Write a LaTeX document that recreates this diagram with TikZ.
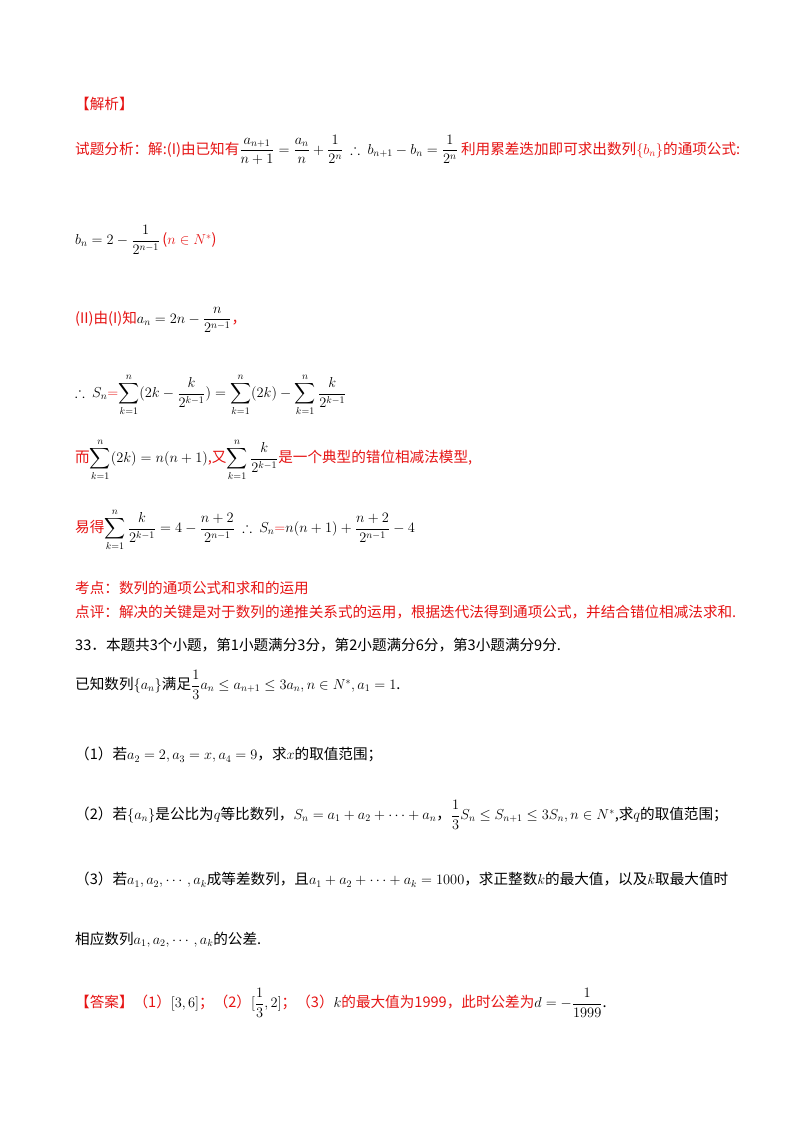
\documentclass[tikz,border=0pt]{standalone}
\usepackage{amsmath,amssymb}
\usepackage{fontspec}
\setmainfont{Liberation Serif}
\newfontfamily\cjk{Noto Sans CJK SC}
\definecolor{rd}{RGB}{230,20,20}
\begin{document}
\begin{tikzpicture}[x=1pt,y=-1pt,
 t/.style={anchor=west,inner sep=0pt,font=\fontsize{14.6}{17}\selectfont\cjk},
 r/.style={t,text=rd}]
\useasboundingbox (0,0) rectangle (800,1132);
\fill[white] (0,0) rectangle (800,1132);
\node[r] (h1) at (75,104) {【解析】};
\node[t] (l1) at (75,150) {\textcolor{rd}{试题分析：解:(I)由已知有}$\dfrac{a_{n+1}}{n+1}=\dfrac{a_n}{n}+\dfrac{1}{2^n}\ \therefore\ b_{n+1}-b_n=\dfrac{1}{2^n}$\ \textcolor{rd}{利用累差迭加即可求出数列$\{b_n\}$的通项公式:}};
\node[t] (l2) at (75,240) {$b_n=2-\dfrac{1}{2^{n-1}}$\,\textcolor{rd}{($n\in N^{*}$)}};
\node[t] (l3) at (75,320) {\textcolor{rd}{(II)由(I)知}$a_n=2n-\dfrac{n}{2^{n-1}}$\textcolor{rd}{，}};
\node[t] (l4) at (75,395) {$\therefore\ S_n$\textcolor{rd}{$=$}$\displaystyle\sum_{k=1}^{n}(2k-\frac{k}{2^{k-1}})=\sum_{k=1}^{n}(2k)-\sum_{k=1}^{n}\frac{k}{2^{k-1}}$};
\node[t] (l5) at (75,460) {\textcolor{rd}{而}$\displaystyle\sum_{k=1}^{n}(2k)=n(n+1)$\textcolor{rd}{,又}$\displaystyle\sum_{k=1}^{n}\frac{k}{2^{k-1}}$\textcolor{rd}{是一个典型的错位相减法模型,}};
\node[t] (l6) at (75,530) {\textcolor{rd}{易得}$\displaystyle\sum_{k=1}^{n}\frac{k}{2^{k-1}}=4-\frac{n+2}{2^{n-1}}\ \therefore\ S_n$\textcolor{rd}{$=$}$n(n+1)+\dfrac{n+2}{2^{n-1}}-4$};
\node[r] (l7) at (75,588) {考点：数列的通项公式和求和的运用};
\node[r] (l8) at (75,612) {点评：解决的关键是对于数列的递推关系式的运用，根据迭代法得到通项公式，并结合错位相减法求和.};
\node[t] (l9) at (75,645) {33．本题共3个小题，第1小题满分3分，第2小题满分6分，第3小题满分9分.};
\node[t] (l10) at (75,685) {已知数列$\{a_n\}$满足$\dfrac13 a_n\le a_{n+1}\le 3a_n,n\in N^*,a_1=1$.};
\node[t] (l11) at (75,755) {（1）若$a_2=2,a_3=x,a_4=9$，求$x$的取值范围；};
\node[t] (l12) at (75,815) {（2）若$\{a_n\}$是公比为$q$等比数列，$S_n=a_1+a_2+\cdots+a_n$，$\dfrac13 S_n\le S_{n+1}\le 3S_n,n\in N^*$,求$q$的取值范围；};
\node[t] (l13) at (75,880) {（3）若$a_1,a_2,\cdots,a_k$成等差数列，且$a_1+a_2+\cdots+a_k=1000$，求正整数$k$的最大值，以及$k$取最大值时};
\node[t] (l14) at (75,940) {相应数列$a_1,a_2,\cdots,a_k$的公差.};
\node[t] (l15) at (75,1003) {\textcolor{rd}{【答案】（1）}$[3,6]$\textcolor{rd}{；（2）}$[\dfrac13,2]$\textcolor{rd}{；（3）}$k$\textcolor{rd}{的最大值为1999，此时公差为}$d=-\dfrac{1}{1999}$.};
\end{tikzpicture}
\end{document}
